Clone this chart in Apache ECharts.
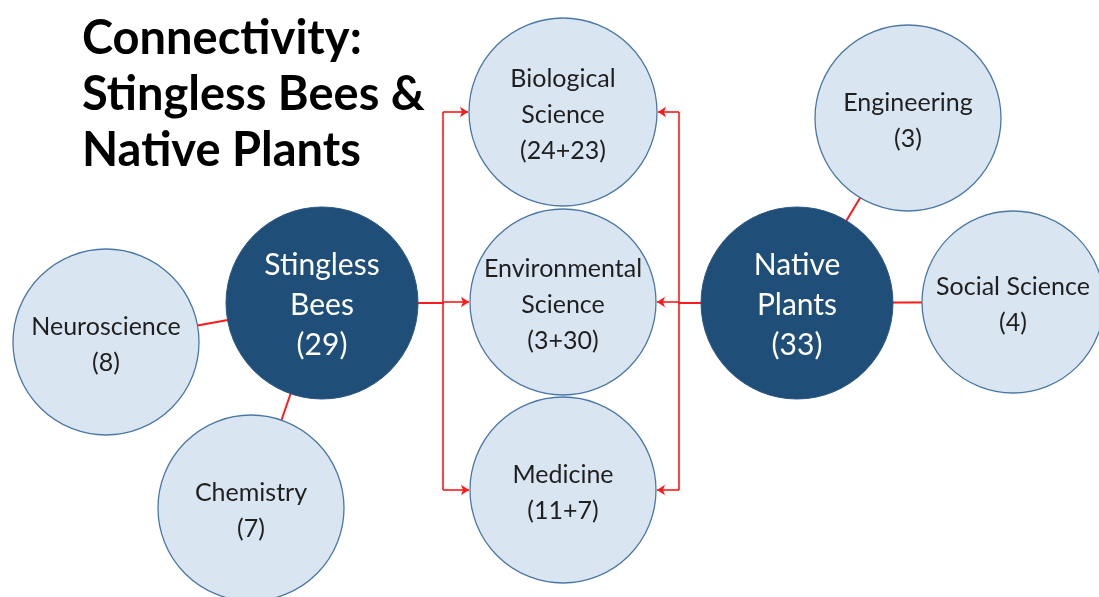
<!DOCTYPE html>
<html><head><meta charset="utf-8">
<script src="https://cdn.jsdelivr.net/npm/echarts@6/dist/echarts.min.js"></script>
<style>html,body{margin:0;padding:0;background:#fff}#c{width:1099px;height:597px}</style>
</head><body><div id="c"></div>
<script>
// ---- data ----
var titleLines = ['Connectivity:', 'Stingless Bees &', 'Native Plants'];
var nodeNames = ['Stingless Bees', 'Native Plants', 'Biological Science', 'Environmental Science', 'Medicine', 'Neuroscience', 'Chemistry', 'Engineering', 'Social Science'];
var nodeLabels = ['Stingless\nBees\n(29)', 'Native\nPlants\n(33)', 'Biological\nScience\n(24+23)', 'Environmental\nScience\n(3+30)', 'Medicine\n(11+7)', 'Neuroscience\n(8)', 'Chemistry\n(7)', 'Engineering\n(3)', 'Social Science\n(4)'];
var nodeType = ['hub', 'hub', 'shared', 'shared', 'shared', 'leaf', 'leaf', 'leaf', 'leaf'];
// layout (diagram positions, pixel space)
var nodeX = [322, 797, 563, 563, 563, 106, 251, 908, 1013];
var nodeY = [303, 303, 112, 302, 490, 342, 508, 118, 302];
var nodeR = [96, 96, 94, 93, 93, 93, 93, 93, 91];
var plainLinks = [['Neuroscience', 'Stingless Bees'], ['Chemistry', 'Stingless Bees'], ['Engineering', 'Native Plants'], ['Social Science', 'Native Plants']];
var arrowLinks = [
  ['Stingless Bees', 'Biological Science', 443], ['Stingless Bees', 'Environmental Science', 443], ['Stingless Bees', 'Medicine', 443],
  ['Native Plants', 'Biological Science', 679], ['Native Plants', 'Environmental Science', 679], ['Native Plants', 'Medicine', 679]
];

// ---- build ----
function idx(n) { return nodeNames.indexOf(n); }
var scatterData = nodeNames.map(function (n, i) {
  var hub = nodeType[i] === 'hub';
  return {
    name: n, value: [nodeX[i], nodeY[i]], symbolSize: nodeR[i] * 2,
    itemStyle: hub ? { color: '#1F4E79', borderColor: '#2A5783', borderWidth: 1, opacity: 1 } : { color: '#DAE5F2', borderColor: '#4A78A6', borderWidth: 1.3, opacity: 1 },
    label: {
      show: true, position: 'inside', formatter: nodeLabels[i], offset: [0, hub ? 2 : 3],
      color: hub ? '#FFFFFF' : '#1F1F1F', fontFamily: 'Lato', fontSize: hub ? 30 : 25, lineHeight: hub ? 40 : 36
    }
  };
});
var plainData = plainLinks.map(function (l) {
  var a = idx(l[0]), b = idx(l[1]);
  return { coords: [[nodeX[a], nodeY[a]], [nodeX[b], nodeY[b]]] };
});
var bracketData = [], arrowData = [];
arrowLinks.forEach(function (l) {
  var a = idx(l[0]), b = idx(l[1]), jx = l[2];
  var side = jx < nodeX[b] ? -1 : 1;
  bracketData.push({ coords: [[nodeX[a], nodeY[a]], [jx, nodeY[a]], [jx, nodeY[b]]] });
  arrowData.push({ coords: [[jx, nodeY[b]], [nodeX[b] + side * (nodeR[b] + 1), nodeY[b]]] });
});

var chart = echarts.init(document.getElementById('c'));
chart.setOption({
  animation: false,
  title: {
    text: titleLines.join('\n'), left: 77, top: 6,
    textStyle: { fontFamily: 'Lato', fontWeight: 'bold', fontSize: 47, lineHeight: 56, color: '#000' }
  },
  grid: { left: 0, right: 0, top: 0, bottom: 0 },
  xAxis: { type: 'value', min: 0, max: 1099, show: false },
  yAxis: { type: 'value', min: 0, max: 597, inverse: true, show: false },
  series: [
    { type: 'lines', coordinateSystem: 'cartesian2d', z: 1, data: plainData, silent: true,
      lineStyle: { color: '#FF1A1A', width: 2, opacity: 1 } },
    { type: 'lines', coordinateSystem: 'cartesian2d', polyline: true, z: 1, data: bracketData, silent: true,
      lineStyle: { color: '#FF1A1A', width: 1.6, opacity: 1 } },
    { type: 'lines', coordinateSystem: 'cartesian2d', z: 1, data: arrowData, silent: true,
      symbol: ['none', 'arrow'], symbolSize: 8,
      lineStyle: { color: '#FF1A1A', width: 1.6, opacity: 1 } },
    { type: 'scatter', z: 2, symbol: 'circle', data: scatterData, silent: true }
  ]
});
</script></body></html>
